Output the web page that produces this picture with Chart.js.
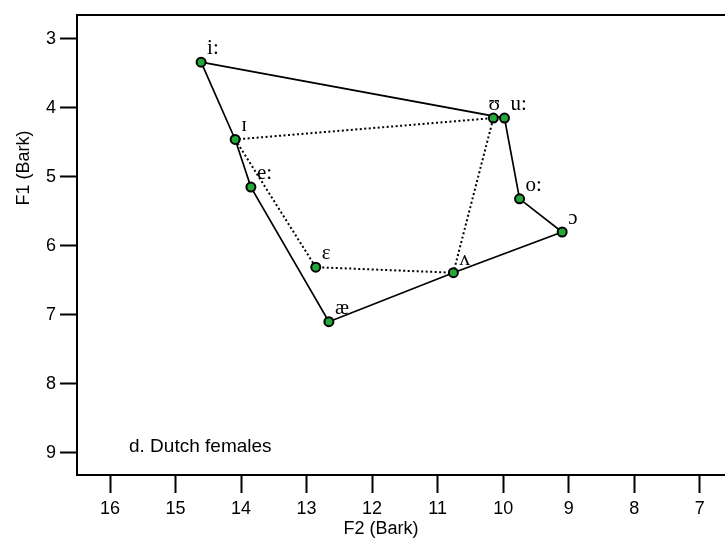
<!DOCTYPE html>
<html>
<head>
<meta charset="utf-8">
<script src="https://cdn.jsdelivr.net/npm/chart.js@4"></script>
<style>
  html, body { margin: 0; padding: 0; background: #fff; overflow: hidden; }
  canvas { display: block; }
</style>
</head>
<body>
<canvas id="vowelChart" width="732" height="547"></canvas>
<script>
// vowel formants, Dutch females (Bark)
const vowels = ["i:", "ɪ", "e:", "ɛ", "æ", "ʌ", "ɔ", "o:", "u:", "ʊ"];
const f2 = [14.61, 14.09, 13.85, 12.86, 12.66, 10.76, 9.1, 9.75, 9.98, 10.15];
const f1 = [3.34, 4.46, 5.15, 6.31, 7.1, 6.39, 5.8, 5.32, 4.15, 4.15];

// solid outline and dotted short-vowel polygon, by vowel name
const outline = ["i:", "ɪ", "e:", "æ", "ʌ", "ɔ", "o:", "u:", "i:"];
const shortVowels = ["ɪ", "ɛ", "ʌ", "ʊ", "ɪ"];

const xTicks = [16, 15, 14, 13, 12, 11, 10, 9, 8, 7];
const yTicks = [3, 4, 5, 6, 7, 8, 9];

const toPoints = (names) =>
  names.map((n) => {
    const i = vowels.indexOf(n);
    return { x: f2[i], y: f1[i] };
  });

const allPoints = vowels.map((v, i) => ({ x: f2[i], y: f1[i] }));

const SANS = "'Liberation Sans', Arial, sans-serif";
const SERIF = "'Liberation Serif', 'DejaVu Serif', serif";

// labels next to the points, frame top line and axis titles
const centered = ["ʊ"];
const extras = {
  id: "extras",
  afterDatasetsDraw(chart) {
    const { ctx, scales } = chart;
    ctx.save();
    ctx.fillStyle = "#000";
    ctx.font = "21px " + SERIF;
    ctx.textBaseline = "alphabetic";
    vowels.forEach((v, i) => {
      const px = scales.x.getPixelForValue(f2[i]);
      const py = scales.y.getPixelForValue(f1[i]);
      if (centered.includes(v)) {
        ctx.textAlign = "center";
        ctx.fillText(v, px + 1, py - 8);
      } else {
        ctx.textAlign = "left";
        ctx.fillText(v, px + 6, py - 8);
      }
    });
    ctx.restore();
  },
  afterDraw(chart) {
    const { ctx, chartArea } = chart;
    ctx.save();
    ctx.strokeStyle = "#000";
    ctx.lineWidth = 2;
    ctx.beginPath();
    ctx.moveTo(chartArea.left - 1, chartArea.top);
    ctx.lineTo(chart.width, chartArea.top);
    ctx.stroke();

    ctx.fillStyle = "#000";
    ctx.font = "19px " + SANS;
    ctx.textAlign = "left";
    ctx.textBaseline = "alphabetic";
    ctx.fillText("d. Dutch females", 129, 452);

    ctx.font = "18px " + SANS;
    ctx.textAlign = "center";
    ctx.textBaseline = "middle";
    ctx.fillText("F2 (Bark)", 381, 529);

    ctx.translate(24, 168);
    ctx.rotate(-Math.PI / 2);
    ctx.fillText("F1 (Bark)", 0, 0);
    ctx.restore();
  },
};

new Chart(document.getElementById("vowelChart"), {
  type: "scatter",
  data: {
    datasets: [
      {
        label: "vowels",
        data: allPoints,
        showLine: false,
        pointRadius: 4.5,
        pointBorderWidth: 2,
        pointBackgroundColor: "#25a83a",
        pointBorderColor: "#000",
      },
      {
        label: "outline",
        data: toPoints(outline),
        showLine: true,
        pointRadius: 0,
        borderColor: "#000",
        borderWidth: 1.7,
      },
      {
        label: "short",
        data: toPoints(shortVowels),
        showLine: true,
        pointRadius: 0,
        borderColor: "#000",
        borderWidth: 2,
        borderDash: [2, 2.5],
      },
    ],
  },
  options: {
    responsive: false,
    animation: false,
    layout: { padding: { top: 15, right: 0, left: 0, bottom: 0 } },
    plugins: {
      legend: { display: false },
      tooltip: { enabled: false },
    },
    scales: {
      x: {
        type: "linear",
        reverse: true,
        min: 6.607,
        max: 16.504,
        afterBuildTicks: (scale) => {
          scale.ticks = xTicks.map((v) => ({ value: v }));
        },
        afterFit: (scale) => {
          scale.height = 72;
        },
        grid: {
          drawOnChartArea: false,
          tickLength: 18,
          tickWidth: 2,
          tickColor: "#000",
        },
        border: { display: true, color: "#000", width: 2 },
        ticks: {
          color: "#000",
          font: { family: SANS, size: 18 },
          padding: 5,
          maxRotation: 0,
          autoSkip: false,
        },
      },
      y: {
        type: "linear",
        reverse: true,
        min: 2.657,
        max: 9.32,
        afterBuildTicks: (scale) => {
          scale.ticks = yTicks.map((v) => ({ value: v }));
        },
        afterFit: (scale) => {
          scale.width = 77;
        },
        grid: {
          drawOnChartArea: false,
          tickLength: 17,
          tickWidth: 2,
          tickColor: "#000",
        },
        border: { display: true, color: "#000", width: 2 },
        ticks: {
          color: "#000",
          font: { family: SANS, size: 18 },
          padding: 4,
          autoSkip: false,
        },
      },
    },
  },
  plugins: [extras],
});
</script>
</body>
</html>
